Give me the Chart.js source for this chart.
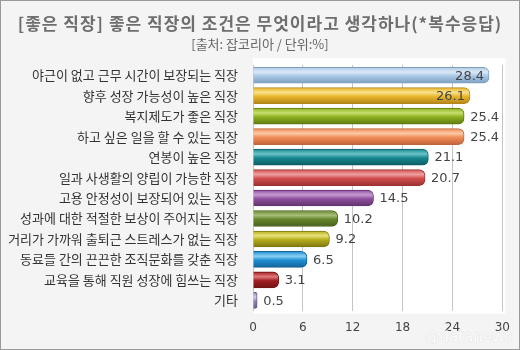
<!DOCTYPE html>
<html>
<head>
<meta charset="utf-8">
<script src="https://cdn.jsdelivr.net/npm/chart.js@4"></script>
<style>
  html, body { margin: 0; padding: 0; background: #f4f4f4; }
  #wrap { width: 520px; height: 350px; position: relative; }
  #myChart { position: absolute; left: 0; top: 0; }
  .head { position: absolute; left: 0; width: 520px; text-align: center; font-family: "Noto Sans CJK KR"; color: #666; white-space: nowrap; }
  #title { top: 11px; font-size: 17px; font-weight: bold; letter-spacing: 1px; line-height: 24px; color: #6e6e6e; }
  #subtitle { top: 35px; font-size: 13px; line-height: 18px; }
</style>
</head>
<body>
<div id="wrap">
  <canvas id="myChart" width="520" height="350"></canvas>
  <div class="head" id="title">[좋은 직장] 좋은 직장의 조건은 무엇이라고 생각하나(*복수응답)</div>
  <div class="head" id="subtitle">[출처: 잡코리아 / 단위:%]</div>
</div>
<script>
const categories = [
  '야근이 없고 근무 시간이 보장되는 직장',
  '향후 성장 가능성이 높은 직장',
  '복지제도가 좋은 직장',
  '하고 싶은 일을 할 수 있는 직장',
  '연봉이 높은 직장',
  '일과 사생활의 양립이 가능한 직장',
  '고용 안정성이 보장되어 있는 직장',
  '성과에 대한 적절한 보상이 주어지는 직장',
  '거리가 가까워 출퇴근 스트레스가 없는 직장',
  '동료들 간의 끈끈한 조직문화를 갖춘 직장',
  '교육을 통해 직원 성장에 힘쓰는 직장',
  '기타'
];
const values = [28.4, 26.1, 25.4, 25.4, 21.1, 20.7, 14.5, 10.2, 9.2, 6.5, 3.1, 0.5];
const xTicks = [0, 6, 12, 18, 24, 30];

// light / mid / dark tone of each bar
const barColors = [
  ['#dbe9f7', '#a9c8e6', '#7f9fc0'],
  ['#f8e08a', '#e9b52c', '#b3861a'],
  ['#c9e070', '#8cb01e', '#5e7c12'],
  ['#fcc8a4', '#f08c58', '#c0643a'],
  ['#6cc4c8', '#168890', '#0c5e64'],
  ['#f0a0a0', '#d24e4e', '#9c3232'],
  ['#c89ad4', '#8e4e9e', '#63346e'],
  ['#a8c07a', '#66862c', '#46601c'],
  ['#e8e27a', '#b4ac1c', '#7e7810'],
  ['#8cd0f4', '#1e8ed0', '#14649a'],
  ['#e07a7a', '#a01e22', '#701416'],
  ['#d6cce8', '#9484b4', '#6a5c8a']
];

function barFill(context) {
  const chart = context.chart;
  const c = barColors[context.dataIndex];
  const y = chart.scales.y;
  if (!y || !chart.chartArea) return c[1];
  const mid = y.getPixelForValue(context.dataIndex);
  const g = chart.ctx.createLinearGradient(0, mid - 8, 0, mid + 8);
  g.addColorStop(0, c[1]);
  g.addColorStop(0.3, c[0]);
  g.addColorStop(0.55, c[1]);
  g.addColorStop(1, c[2]);
  return g;
}

const frame = {
  id: 'frame',
  beforeDraw(chart) {
    const ctx = chart.ctx;
    const a = chart.chartArea;
    ctx.save();
    ctx.fillStyle = '#f4f4f4';
    ctx.fillRect(0, 0, chart.width, chart.height);
    ctx.strokeStyle = '#9a9a9a';
    ctx.lineWidth = 1;
    ctx.strokeRect(0.5, 0.5, chart.width - 1, chart.height - 1);
    ctx.fillStyle = '#ffffff';
    ctx.fillRect(a.left, a.top - 7, a.right - a.left + 3, a.bottom - a.top + 10);
    ctx.restore();
  },
  afterDraw(chart) {
    const ctx = chart.ctx;
    ctx.save();
    ctx.font = '15px "DejaVu Sans"';
    ctx.fillStyle = 'rgba(255,255,255,0.8)';
    ctx.strokeStyle = 'rgba(200,200,200,0.35)';
    ctx.textAlign = 'right';
    ctx.textBaseline = 'middle';
    ctx.strokeText('@datanews', 512, 338);
    ctx.fillText('@datanews', 512, 338);
    ctx.restore();
  }
};

const valueLabels = {
  id: 'valueLabels',
  afterDatasetsDraw(chart) {
    const ctx = chart.ctx;
    const meta = chart.getDatasetMeta(0);
    ctx.save();
    ctx.font = '13px "DejaVu Sans"';
    ctx.fillStyle = '#444';
    ctx.textBaseline = 'middle';
    meta.data.forEach((bar, i) => {
      const v = values[i];
      if (v > 26) {
        ctx.textAlign = 'right';
        ctx.fillText(v.toFixed(1), bar.x - 5, bar.y + 1);
      } else {
        ctx.textAlign = 'left';
        ctx.fillText(v.toFixed(1), bar.x + 6, bar.y + 1);
      }
    });
    ctx.restore();
  }
};

const ctx = document.getElementById('myChart');

new Chart(ctx, {
  type: 'bar',
  data: {
    labels: categories,
    datasets: [{
      data: values,
      backgroundColor: barFill,
      borderColor: barColors.map(c => c[2]),
      borderWidth: 1,
      borderRadius: 6,
      barThickness: 16
    }]
  },
  options: {
    indexAxis: 'y',
    responsive: false,
    animation: false,
    layout: { padding: { top: 65, right: 16, bottom: 5, left: 4 } },
    plugins: {
      legend: { display: false },
      tooltip: { enabled: false }
    },
    scales: {
      x: {
        min: 0,
        max: 30,
        afterBuildTicks(scale) {
          scale.ticks = xTicks.map(v => ({ value: v }));
        },
        grid: { color: '#c4c4c4', drawTicks: false, drawOnChartArea: true },
        border: { display: false },
        ticks: {
          color: '#444',
          padding: 10,
          font: { family: '"DejaVu Sans"', size: 12 }
        }
      },
      y: {
        grid: { display: false },
        border: { color: '#c4c4c4' },
        afterFit(scale) { scale.width = 249; },
        ticks: {
          color: '#333',
          padding: 7,
          autoSkip: false,
          font: { family: '"Noto Sans CJK KR"', size: 13 }
        }
      }
    }
  },
  plugins: [frame, valueLabels]
});
</script>
</body>
</html>
